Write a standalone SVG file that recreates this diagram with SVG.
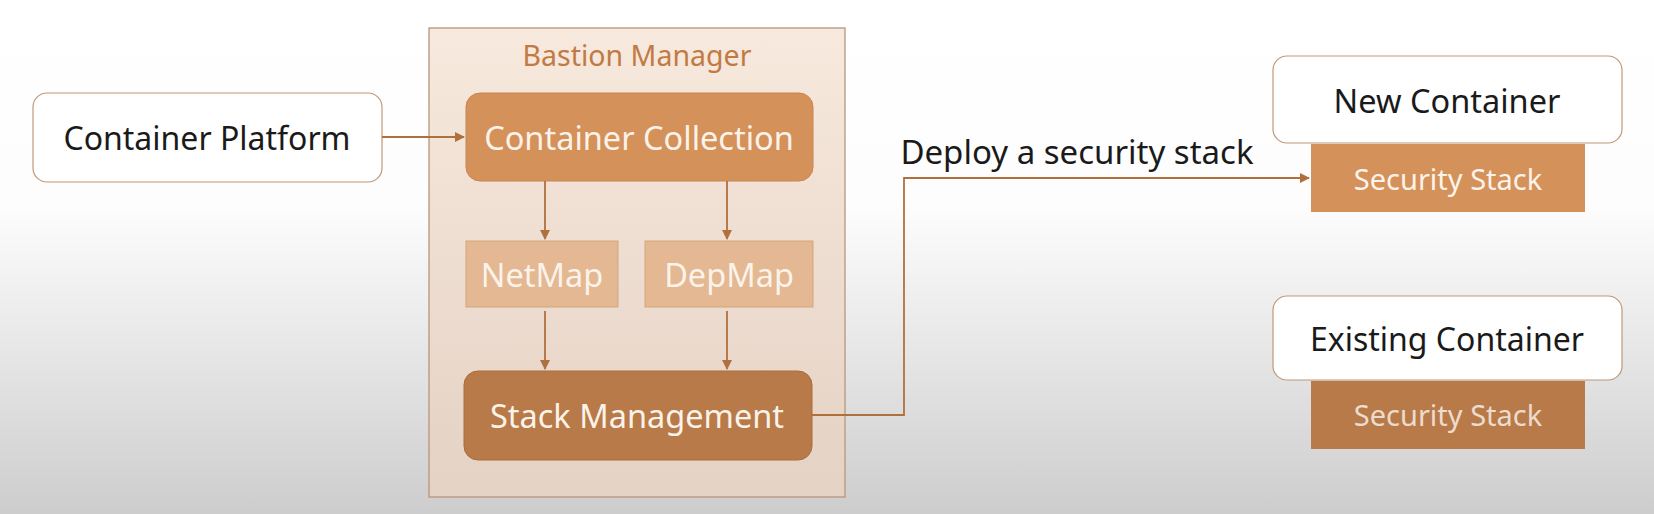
<svg xmlns="http://www.w3.org/2000/svg" width="1654" height="514" viewBox="0 0 1654 514">
<defs>
<linearGradient id="bg" x1="0" y1="0" x2="0" y2="1">
<stop offset="0" stop-color="#ffffff"/>
<stop offset="0.4" stop-color="#fdfdfd"/>
<stop offset="1" stop-color="#cdcdcd"/>
</linearGradient>
<linearGradient id="bm" x1="0" y1="0" x2="0" y2="1">
<stop offset="0" stop-color="#f7e9dd"/>
<stop offset="1" stop-color="#e4d2c4"/>
</linearGradient>
<marker id="ah" viewBox="0 0 10 10" refX="9" refY="5" markerWidth="10" markerHeight="10" markerUnits="userSpaceOnUse" orient="auto">
<path d="M0,0 L10,5 L0,10 z" fill="#b0703c"/>
</marker>
<style>
text{font-family:"Noto Sans","Open Sans","DejaVu Sans",sans-serif;text-anchor:middle;dominant-baseline:central}
.white{fill:#ffffff;stroke:#c09878;stroke-width:1.2}
.dark{fill:#1a1a1a}
.light{fill:#fbf3ea}
.conn{fill:none;stroke:#b0703c;stroke-width:1.8}
</style>
</defs>
<rect width="1654" height="514" fill="url(#bg)"/>
<g id="bastion-manager">
<rect x="429" y="28" width="416" height="469" fill="url(#bm)" stroke="#b8957c" stroke-width="1.3"/>
<text x="637" y="55" font-size="28.5" fill="#c27a44">Bastion Manager</text>
</g>
<g id="container-platform">
<rect class="white" x="33" y="93" width="349" height="89" rx="14"/>
<text class="dark" x="207" y="137" font-size="32">Container Platform</text>
</g>
<g id="container-collection">
<rect x="466" y="93" width="347" height="88" rx="14" fill="#d4915a" stroke="#c88550" stroke-width="1"/>
<text class="light" x="639" y="137" font-size="32.5">Container Collection</text>
</g>
<g id="netmap">
<rect x="466" y="241" width="152" height="66" fill="#e3b893" stroke="#d5a57d" stroke-width="1"/>
<text class="light" x="542" y="274" font-size="32.5">NetMap</text>
</g>
<g id="depmap">
<rect x="645" y="241" width="168" height="66" fill="#e3b893" stroke="#d5a57d" stroke-width="1"/>
<text class="light" x="729" y="274" font-size="32.5">DepMap</text>
</g>
<g id="stack-management">
<rect x="464" y="371" width="348" height="89" rx="14" fill="#b87a48" stroke="#a86c3c" stroke-width="1"/>
<text class="light" x="637" y="415" font-size="32.5">Stack Management</text>
</g>
<g id="new-container">
<rect class="white" x="1273" y="56" width="349" height="87" rx="14"/>
<text class="dark" x="1447" y="100" font-size="32.5">New Container</text>
</g>
<g id="security-stack-new">
<rect x="1311" y="144" width="274" height="68" fill="#d4915a"/>
<text class="light" x="1448" y="178" font-size="29">Security Stack</text>
</g>
<g id="existing-container">
<rect class="white" x="1273" y="296" width="349" height="84" rx="14"/>
<text class="dark" x="1447" y="338" font-size="32">Existing Container</text>
</g>
<g id="security-stack-existing">
<rect x="1311" y="381" width="274" height="68" fill="#b87a48"/>
<text x="1448" y="414" font-size="29" fill="#ecdccd">Security Stack</text>
</g>
<g id="connectors">
<line class="conn" x1="382" y1="137" x2="464" y2="137" marker-end="url(#ah)"/>
<line class="conn" x1="545" y1="181" x2="545" y2="239" marker-end="url(#ah)"/>
<line class="conn" x1="727" y1="181" x2="727" y2="239" marker-end="url(#ah)"/>
<line class="conn" x1="545" y1="311" x2="545" y2="369" marker-end="url(#ah)"/>
<line class="conn" x1="727" y1="311" x2="727" y2="369" marker-end="url(#ah)"/>
<polyline class="conn" points="812,415 904,415 904,178 1309,178" marker-end="url(#ah)"/>
<text class="dark" x="1077" y="151" font-size="33">Deploy a security stack</text>
</g>
</svg>
